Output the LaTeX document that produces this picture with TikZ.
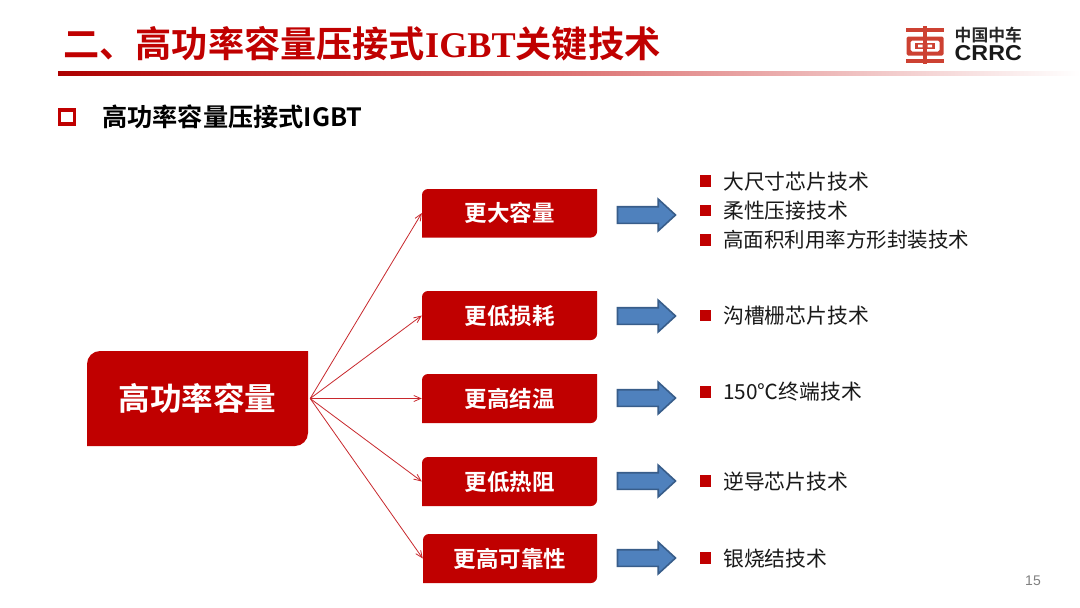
\documentclass[tikz,border=0pt]{standalone}
\usepackage{fontspec}
\setmainfont{Noto Sans CJK SC}
\newfontfamily\cjkb{Noto Sans CJK SC Bold}
\newfontfamily\serifb{Liberation Serif Bold}
\newfontfamily\latinb{Liberation Sans Bold}
\newfontfamily\latinr{Liberation Sans}
\usetikzlibrary{arrows.meta,shapes.arrows,shadings}
\definecolor{crrcred}{RGB}{192,0,0}
\definecolor{linkred}{RGB}{200,40,45}
\definecolor{logored}{RGB}{205,65,50}
\definecolor{arrowfill}{RGB}{79,129,189}
\definecolor{arrowedge}{RGB}{56,93,138}
\tikzset{
  x=1pt,y=-1pt,
  tagfill/.style={fill=crrcred,draw=none},
  taglabel/.style={inner sep=0pt,text=white,font=\cjkb\fontsize{22.5}{24}\selectfont},
  link/.style={draw=linkred,line width=0.8pt,-{Straight Barb[length=7pt,width=6pt,line width=0.8pt]}},
  blockarrow/.style={shape=single arrow,fill=arrowfill,draw=arrowedge,line width=1.6pt,
     text height=15pt,text depth=0pt,text width=0pt,minimum width=29pt,minimum height=58pt,
     single arrow head extend=7.5pt,single arrow tip angle=85,inner sep=0pt},
  bulletsq/.style={fill=crrcred,draw=none,minimum size=11.5pt,inner sep=0pt},
  itemtext/.style={anchor=west,inner sep=0pt,font=\fontsize{20.8}{23}\selectfont,text=black!90},
  logobar/.style={fill=logored,draw=none},
}
\newcommand{\tagbox}[6]{% x1 y1 x2 y2 radius
  \fill[tagfill] (#1+#5,#2) -- (#3,#2) -- (#3,#4-#5)
     .. controls (#3,#4-0.45*#5) and (#3-0.45*#5,#4) .. (#3-#5,#4)
     -- (#1,#4) -- (#1,#2+#5)
     .. controls (#1,#2+0.45*#5) and (#1+0.45*#5,#2) .. (#1+#5,#2) -- cycle;
}
\begin{document}
\begin{tikzpicture}
\useasboundingbox (0,0) rectangle (1080,608);
\fill[white] (0,0) rectangle (1080,608);
% title
\node[anchor=west,inner sep=0pt,text=crrcred] (title) at (63,44)
  {\fontsize{36.2}{40}\selectfont\cjkb 二、高功率容量压接式{\serifb IGBT}关键技术};
\shade[left color=crrcred!90!black,right color=white,middle color=crrcred!55!white] (58,71.5) rectangle (1080,75);
% logo
\fill[logobar] (906,28) rectangle (944,32);
\fill[logobar] (906,58.5) rectangle (944,62.5);
\fill[logobar] (923,25.5) rectangle (927,64);
\fill[logobar,even odd rule,rounded corners=1.5pt] (906.5,36.5) rectangle (943.5,55.5) (910.5,40.5) rectangle (939.5,51.5);
\fill[logobar] (915,43) rectangle (935,49);
\fill[white] (918,44.7) rectangle (922.5,47.3) (927.5,44.7) rectangle (932,47.3);
\node[anchor=west,inner sep=0pt,text=black!85] (logozh) at (954.5,35) {\cjkb\fontsize{16.8}{18}\selectfont 中国中车};
\node[anchor=west,inner sep=0pt,text=black!90,xscale=1.08] (logoen) at (954.5,53.5) {\latinb\fontsize{21.5}{22}\selectfont CRRC};
% subtitle
\draw[crrcred,line width=3.4pt] (59.5,110) rectangle (74.5,124);
\node[anchor=west,inner sep=0pt,text=black] (subtitle) at (102,117)
  {\cjkb\fontsize{25.2}{27}\selectfont 高功率容量压接式IGBT};
% main box
\tagbox{87}{351}{308}{446}{13}{}
\node[minimum width=221pt,minimum height=95pt,inner sep=0pt,text=white] (main) at (197.5,398.5)
  {\cjkb\fontsize{31.6}{34}\selectfont 高功率容量};
% tag boxes
\tagbox{422}{189}{597}{237.5}{6}{}
\tagbox{422}{291}{597}{340}{6}{}
\tagbox{422}{374}{597}{423}{6}{}
\tagbox{422}{457}{597}{506}{6}{}
\tagbox{423}{534}{597}{583}{6}{}
\node[taglabel,minimum width=175pt,minimum height=48pt] (ta) at (509.5,213) {更大容量};
\node[taglabel,minimum width=175pt,minimum height=48pt] (tb) at (509.5,315.5) {更低损耗};
\node[taglabel,minimum width=175pt,minimum height=48pt] (tc) at (509.5,398.5) {更高结温};
\node[taglabel,minimum width=175pt,minimum height=48pt] (td) at (509.5,481.5) {更低热阻};
\node[taglabel,minimum width=174pt,minimum height=48pt] (te) at (510,558.5) {更高可靠性};
% connectors
\coordinate (hub) at ([xshift=2pt]main.east);
\draw[link] (hub) -- (ta.west);
\draw[link] (hub) -- (tb.west);
\draw[link] (hub) -- (tc.west);
\draw[link] (hub) -- (td.west);
\draw[link] (hub) -- (te.west);
% block arrows
\node[blockarrow] (aa) at (642,215) {};
\node[blockarrow] (ab) at (642,316) {};
\node[blockarrow] (ac) at (642,398) {};
\node[blockarrow] (ad) at (642,481) {};
\node[blockarrow] (ae) at (642,558) {};
% lists
\node[bulletsq] (b1) at (705.5,181) {};
\node[bulletsq] (b2) at (705.5,210.5) {};
\node[bulletsq] (b3) at (705.5,240) {};
\node[bulletsq] (b4) at (705.5,315.5) {};
\node[bulletsq] (b5) at (705.5,392) {};
\node[bulletsq] (b6) at (705.5,481) {};
\node[bulletsq] (b7) at (705.5,558) {};
\node[itemtext] (i1) at (723,181.5) {大尺寸芯片技术};
\node[itemtext] (i2) at (723,211) {柔性压接技术};
\node[itemtext,font=\fontsize{20.5}{23}\selectfont] (i3) at (723,240) {高面积利用率方形封装技术};
\node[itemtext] (i4) at (723,315.5) {沟槽栅芯片技术};
\node[itemtext] (i5) at (723,392) {150℃终端技术};
\node[itemtext] (i6) at (723,481.5) {逆导芯片技术};
\node[itemtext] (i7) at (723,558.5) {银烧结技术};
% page number
\node[inner sep=0pt,text=black!50] (page) at (1033,581) {\latinr\fontsize{14}{16}\selectfont 15};
\end{tikzpicture}
\end{document}
